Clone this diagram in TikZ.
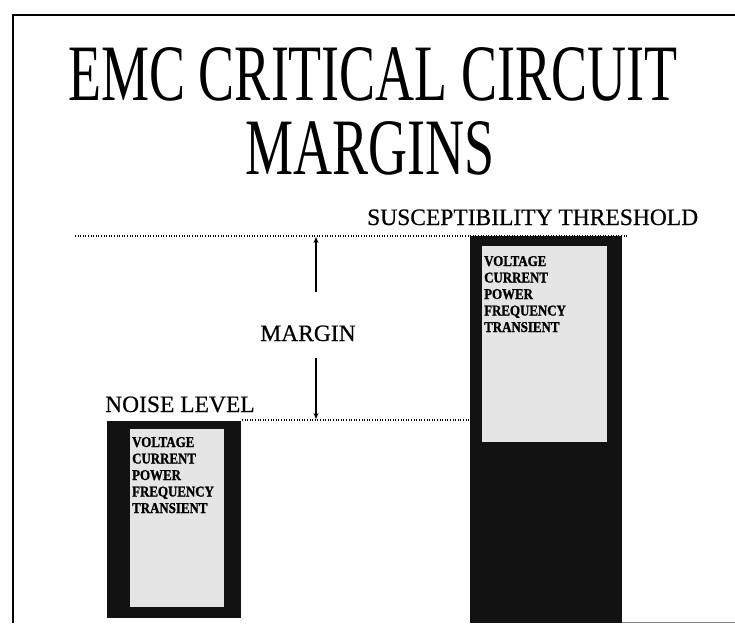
\documentclass[tikz,border=0pt]{standalone}
\usepackage{fontspec}
\setmainfont{Liberation Serif}
\newfontfamily\titlefont{Liberation Serif}[FakeStretch=0.675]
\newfontfamily\headfont{Liberation Serif}[FakeBold=0.6]
\newfontfamily\listfont{Liberation Serif Bold}[FakeStretch=0.86, FakeBold=1.2]
\usetikzlibrary{arrows.meta}
\definecolor{darkfill}{gray}{0.07}
\definecolor{lightfill}{gray}{0.9}
\tikzset{Title/.style={font=\titlefont\fontsize{80}{80}\selectfont, inner sep=0pt, anchor=base}}

\begin{document}
\begin{tikzpicture}[x=1pt, y=-1pt,
    Head/.style={font=\headfont\fontsize{23.5}{23.5}\selectfont, inner sep=0pt},
    Item/.style={font=\listfont\fontsize{15}{15}\selectfont, inner sep=0pt, anchor=base west},
    Level/.style={dotted, line width=1.2pt, dash pattern=on 1pt off 1.6pt},
    Span/.style={-{Stealth[length=6pt, width=5pt]}, line width=1.4pt}]
        \useasboundingbox (0,0) rectangle (735,623);
        % \draw[help lines, gray] (0,0) grid[step=50] (735,623);
        % frame
        \draw[line width=2.6pt] (13,623) -- (13,15) -- (735,15);
        \draw[line width=1pt, gray] (622,622) -- (735,622);
        % title
        \node[Title] (T1) at (373,101) {EMC CRITICAL CIRCUIT};
        \node[Title] (T2) at (370,174) {MARGINS};

        % noise level box
        \fill[darkfill] (107,421) rectangle (241,618);
        \fill[lightfill] (130,429) rectangle (224,607);
        % susceptibility box
        \fill[darkfill] (470,236) rectangle (622,623);
        \fill[lightfill] (482,246) rectangle (607,442);

        % levels
        \node[Head, anchor=base west] (N) at (105,412) {NOISE LEVEL};
        \node[Head, anchor=base west] (S) at (367,225) {SUSCEPTIBILITY THRESHOLD};
        \node[Head, anchor=base] (M) at (308,341) {MARGIN};
        \draw[Level] (75,236) -- (627,236);
        \draw[Level] (242,420) -- (470,420);

        \coordinate (up0) at (316,292);
        \coordinate (up1) at (316,237);
        \coordinate (dn0) at (316,358);
        \coordinate (dn1) at (316,419);
        \draw[Span] (up0) -- (up1);
        \draw[Span] (dn0) -- (dn1);

        % lists
        \node[Item] (NV) at (132,447) {VOLTAGE};
        \node[Item] (NC) at (132,463.5) {CURRENT};
        \node[Item] (NP) at (132,480) {POWER};
        \node[Item] (NF) at (132,496.5) {FREQUENCY};
        \node[Item] (NT) at (132,513) {TRANSIENT};
        \node[Item] (SV) at (484,266) {VOLTAGE};
        \node[Item] (SC) at (484,282.5) {CURRENT};
        \node[Item] (SP) at (484,299) {POWER};
        \node[Item] (SF) at (484,315.5) {FREQUENCY};
        \node[Item] (ST) at (484,332) {TRANSIENT};
    \end{tikzpicture}
\end{document}
